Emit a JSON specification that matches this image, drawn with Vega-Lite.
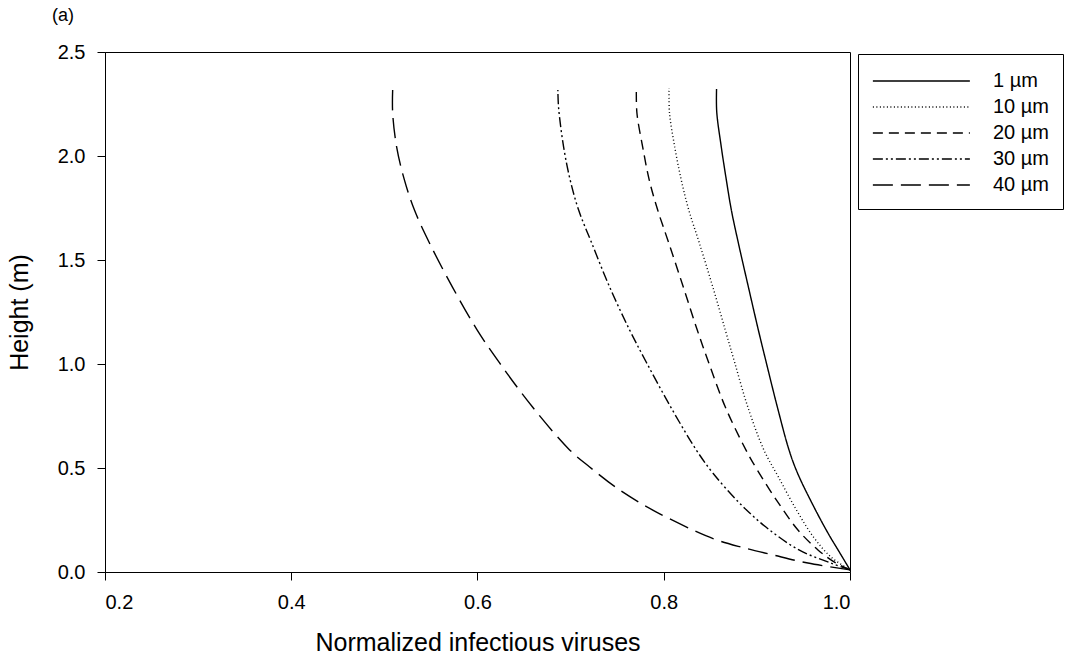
{
  "$schema": "https://vega.github.io/schema/vega-lite/v6.json",
  "autosize": "none",
  "padding": {"left": 105, "top": 52, "right": 224, "bottom": 89},
  "width": 745,
  "height": 520,
  "background": "white",
  "config": {
    "font": "Liberation Sans",
    "view": {"stroke": "black", "strokeWidth": 1},
    "axis": {"grid": false, "domainColor": "black", "tickColor": "black", "labelColor": "black", "titleColor": "black", "labelFont": "Liberation Sans", "titleFont": "Liberation Sans", "labelFontSize": 20, "titleFontSize": 25, "titleFontWeight": "normal", "tickSize": 8, "labelPadding": 12}
  },
  "title": {"text": "(a)", "anchor": "start", "frame": "group", "dx": -53, "offset": 17, "fontSize": 18, "fontWeight": "normal", "font": "Liberation Sans", "color": "black"},
  "data": {"values": [
    {"size": "1 µm", "x": 0.8567, "y": 2.322},
    {"size": "1 µm", "x": 0.8569, "y": 2.212},
    {"size": "1 µm", "x": 0.8618, "y": 2.043},
    {"size": "1 µm", "x": 0.8672, "y": 1.885},
    {"size": "1 µm", "x": 0.8726, "y": 1.74},
    {"size": "1 µm", "x": 0.8801, "y": 1.582},
    {"size": "1 µm", "x": 0.8909, "y": 1.37},
    {"size": "1 µm", "x": 0.9016, "y": 1.163},
    {"size": "1 µm", "x": 0.9102, "y": 1.005},
    {"size": "1 µm", "x": 0.922, "y": 0.793},
    {"size": "1 µm", "x": 0.9345, "y": 0.587},
    {"size": "1 µm", "x": 0.9436, "y": 0.476},
    {"size": "1 µm", "x": 0.9613, "y": 0.3125},
    {"size": "1 µm", "x": 0.9763, "y": 0.1875},
    {"size": "1 µm", "x": 0.9892, "y": 0.091},
    {"size": "1 µm", "x": 1.0, "y": 0.01},
    {"size": "10 µm", "x": 0.8057, "y": 2.327},
    {"size": "10 µm", "x": 0.8062, "y": 2.207},
    {"size": "10 µm", "x": 0.8118, "y": 2.043},
    {"size": "10 µm", "x": 0.8188, "y": 1.885},
    {"size": "10 µm", "x": 0.8269, "y": 1.74},
    {"size": "10 µm", "x": 0.8382, "y": 1.582},
    {"size": "10 µm", "x": 0.8527, "y": 1.37},
    {"size": "10 µm", "x": 0.8661, "y": 1.163},
    {"size": "10 µm", "x": 0.8763, "y": 1.005},
    {"size": "10 µm", "x": 0.8903, "y": 0.793},
    {"size": "10 µm", "x": 0.9075, "y": 0.587},
    {"size": "10 µm", "x": 0.9231, "y": 0.457},
    {"size": "10 µm", "x": 0.9425, "y": 0.298},
    {"size": "10 µm", "x": 0.9608, "y": 0.168},
    {"size": "10 µm", "x": 0.9796, "y": 0.072},
    {"size": "10 µm", "x": 1.0, "y": 0.01},
    {"size": "20 µm", "x": 0.7706, "y": 2.327},
    {"size": "20 µm", "x": 0.7712, "y": 2.207},
    {"size": "20 µm", "x": 0.7774, "y": 2.043},
    {"size": "20 µm", "x": 0.7844, "y": 1.885},
    {"size": "20 µm", "x": 0.7935, "y": 1.74},
    {"size": "20 µm", "x": 0.8054, "y": 1.582},
    {"size": "20 µm", "x": 0.821, "y": 1.37},
    {"size": "20 µm", "x": 0.836, "y": 1.163},
    {"size": "20 µm", "x": 0.8484, "y": 1.005},
    {"size": "20 µm", "x": 0.8661, "y": 0.793},
    {"size": "20 µm", "x": 0.8882, "y": 0.587},
    {"size": "20 µm", "x": 0.9005, "y": 0.49},
    {"size": "20 µm", "x": 0.9231, "y": 0.332},
    {"size": "20 µm", "x": 0.9441, "y": 0.202},
    {"size": "20 µm", "x": 0.9656, "y": 0.106},
    {"size": "20 µm", "x": 0.9849, "y": 0.043},
    {"size": "20 µm", "x": 1.0, "y": 0.01},
    {"size": "30 µm", "x": 0.6863, "y": 2.317},
    {"size": "30 µm", "x": 0.6871, "y": 2.231},
    {"size": "30 µm", "x": 0.6925, "y": 2.043},
    {"size": "30 µm", "x": 0.6995, "y": 1.885},
    {"size": "30 µm", "x": 0.7086, "y": 1.74},
    {"size": "30 µm", "x": 0.7226, "y": 1.582},
    {"size": "30 µm", "x": 0.7419, "y": 1.37},
    {"size": "30 µm", "x": 0.7634, "y": 1.163},
    {"size": "30 µm", "x": 0.7817, "y": 1.005},
    {"size": "30 µm", "x": 0.8075, "y": 0.793},
    {"size": "30 µm", "x": 0.8349, "y": 0.587},
    {"size": "30 µm", "x": 0.8527, "y": 0.476},
    {"size": "30 µm", "x": 0.8812, "y": 0.332},
    {"size": "30 µm", "x": 0.9097, "y": 0.216},
    {"size": "30 µm", "x": 0.9452, "y": 0.106},
    {"size": "30 µm", "x": 0.9796, "y": 0.043},
    {"size": "30 µm", "x": 1.0, "y": 0.01},
    {"size": "40 µm", "x": 0.5089, "y": 2.317},
    {"size": "40 µm", "x": 0.5089, "y": 2.207},
    {"size": "40 µm", "x": 0.5132, "y": 2.043},
    {"size": "40 µm", "x": 0.5215, "y": 1.885},
    {"size": "40 µm", "x": 0.5323, "y": 1.74},
    {"size": "40 µm", "x": 0.5484, "y": 1.582},
    {"size": "40 µm", "x": 0.5731, "y": 1.37},
    {"size": "40 µm", "x": 0.5997, "y": 1.163},
    {"size": "40 µm", "x": 0.6237, "y": 1.005},
    {"size": "40 µm", "x": 0.6591, "y": 0.793},
    {"size": "40 µm", "x": 0.6989, "y": 0.587},
    {"size": "40 µm", "x": 0.7204, "y": 0.505},
    {"size": "40 µm", "x": 0.7527, "y": 0.394},
    {"size": "40 µm", "x": 0.7882, "y": 0.298},
    {"size": "40 µm", "x": 0.8312, "y": 0.202},
    {"size": "40 µm", "x": 0.857, "y": 0.154},
    {"size": "40 µm", "x": 0.8828, "y": 0.12},
    {"size": "40 µm", "x": 0.9172, "y": 0.082},
    {"size": "40 µm", "x": 0.9548, "y": 0.043},
    {"size": "40 µm", "x": 1.0, "y": 0.01}
  ]},
  "mark": {"type": "line", "color": "black", "strokeWidth": 1.4, "interpolate": "catmull-rom"},
  "encoding": {
    "x": {"field": "x", "type": "quantitative", "scale": {"domain": [0.2, 1.0], "nice": false, "zero": false}, "axis": {"values": [0.2, 0.4, 0.6, 0.8, 1.0], "format": ".1f", "title": "Normalized infectious viruses", "titlePadding": 18}},
    "y": {"field": "y", "type": "quantitative", "scale": {"domain": [0, 2.5], "nice": false}, "axis": {"values": [0, 0.5, 1.0, 1.5, 2.0, 2.5], "format": ".1f", "title": "Height (m)", "titlePadding": 25}},
    "order": {"field": "y", "type": "quantitative"},
    "detail": {"field": "size"},
    "strokeDash": {
      "field": "size", "type": "nominal",
      "scale": {"domain": ["1 µm", "10 µm", "20 µm", "30 µm", "40 µm"], "range": [[1, 0], [1, 2.5], [10, 6], [10, 3, 2, 3, 2, 3], [20, 8]]},
      "legend": {"title": null, "orient": "none", "legendX": 753, "legendY": 2, "strokeColor": "black", "fillColor": "white", "padding": 14, "symbolType": "M-1,0H7", "symbolSize": 588, "symbolStrokeWidth": 1.4, "symbolStrokeColor": "black", "symbolFillColor": "transparent", "labelFontSize": 20, "labelColor": "black", "labelFont": "Liberation Sans", "labelOffset": 95, "rowPadding": 3}
    }
  }
}
